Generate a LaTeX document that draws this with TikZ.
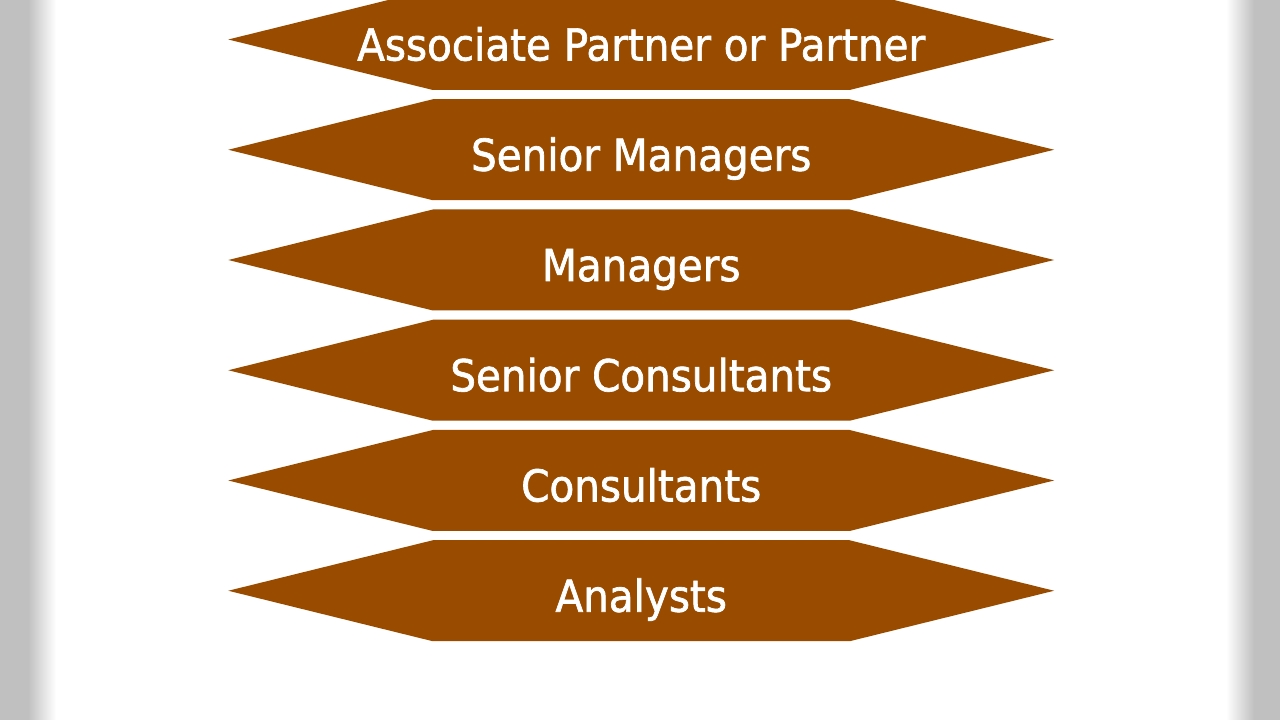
\documentclass[tikz,border=0pt]{standalone}
\usepackage{fontspec}
\newfontfamily\rankfont[FakeStretch=0.92,FakeBold=1.5]{DejaVu Sans}
\usetikzlibrary{shapes.symbols}
\definecolor{rankbrown}{RGB}{153,76,0}
\definecolor{edgegray}{RGB}{192,192,192}

\begin{document}
\begin{tikzpicture}[x=1pt,y=1pt,node distance=110.25pt,
    rank node/.style={signal,signal to=west and east,signal pointer angle=27.74,fill=rankbrown,draw=none,
        inner xsep=208.35pt,inner ysep=25.5pt,text height=46pt,text depth=4pt,text=white,
        font=\rankfont\fontsize{44}{48}\selectfont}]
                    \useasboundingbox (0,0) rectangle (1280,720);
                    \fill[white] (0,0) rectangle (1280,720);
                    % grey edges
                    \fill[edgegray] (0,0) rectangle (28,720);
                    \shade[left color=edgegray,right color=white] (28,0) rectangle (56,720);
                    \fill[edgegray] (1254,0) rectangle (1280,720);
                    \shade[left color=white,right color=edgegray] (1226,0) rectangle (1254,720);

                    \node[rank node] (1) at (641.2,680.5) {\makebox[0pt]{Associate Partner or Partner}};
                    \node[rank node] (2) [below of = 1] {\makebox[0pt]{Senior Managers}};
                    \node[rank node] (3) [below of = 2] {\makebox[0pt]{Managers}};
                    \node[rank node] (4) [below of = 3] {\makebox[0pt]{Senior Consultants}};
                    \node[rank node] (5) [below of = 4] {\makebox[0pt]{Consultants}};
                    \node[rank node] (6) [below of = 5] {\makebox[0pt]{Analysts}};
                \end{tikzpicture}
\end{document}
